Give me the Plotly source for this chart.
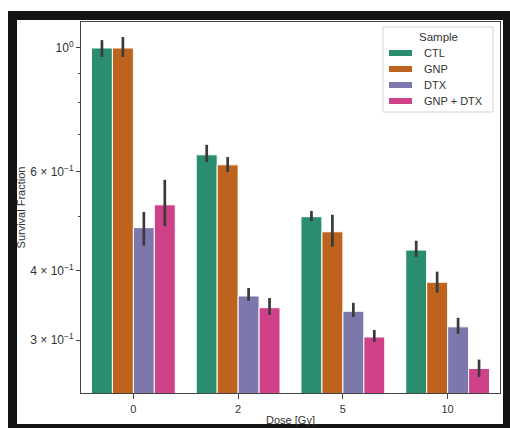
import plotly.graph_objects as go

# ---- data ----
doses = ["0", "2", "5", "10"]
samples = ["CTL", "GNP", "DTX", "GNP + DTX"]
ctl = [1.000, 0.644, 0.499, 0.435]
ctl_hi = [1.033, 0.671, 0.511, 0.452]
ctl_lo = [0.964, 0.625, 0.490, 0.423]
gnp = [1.000, 0.618, 0.469, 0.381]
gnp_hi = [1.046, 0.638, 0.503, 0.398]
gnp_lo = [0.964, 0.600, 0.441, 0.365]
dtx = [0.477, 0.360, 0.338, 0.317]
dtx_hi = [0.509, 0.372, 0.350, 0.329]
dtx_lo = [0.443, 0.353, 0.330, 0.308]
combo = [0.524, 0.343, 0.304, 0.267]
combo_hi = [0.581, 0.357, 0.313, 0.277]
combo_lo = [0.480, 0.333, 0.298, 0.258]
colors = ["#2b8d70", "#be631d", "#7c78ab", "#cf4189"]
ytick_vals = [1.0, 0.6, 0.4, 0.3]
ytick_text = ["10<sup>0</sup>", "6 × 10<sup>−1</sup>", "4 × 10<sup>−1</sup>", "3 × 10<sup>−1</sup>"]
yminor_vals = [0.9, 0.8, 0.7, 0.5]
legend_title = "Sample"

series = [(ctl, ctl_hi, ctl_lo), (gnp, gnp_hi, gnp_lo), (dtx, dtx_hi, dtx_lo), (combo, combo_hi, combo_lo)]

W, H = 510, 428
L, R, T, B = 81, 10, 22, 35
PW, PH = W - L - R, H - T - B

def px(x):
    return (x - L) / PW

def py(y):
    return (H - B - y) / PH

fig = go.Figure()
for name, (v, hi, lo), c in zip(samples, series, colors):
    fig.add_trace(go.Bar(
        x=doses, y=v, name=name, showlegend=False,
        marker=dict(color=c, line=dict(color="white", width=1)),
        error_y=dict(type="data", symmetric=False,
                     array=[h - a for h, a in zip(hi, v)],
                     arrayminus=[a - l for a, l in zip(v, lo)],
                     color="#3a3a3a", thickness=2.7, width=0),
    ))

font = "Liberation Sans, Arial, sans-serif"
frame = [
    (8, 11, 510, 20),
    (8, 11, 17, 428),
    (503, 11, 510, 428),
    (8, 424, 510, 428),
]
shapes = [dict(type="rect", xref="paper", yref="paper",
               x0=px(a), x1=px(c), y0=py(d), y1=py(b),
               fillcolor="#141414", line=dict(width=0), layer="above")
          for a, b, c, d in frame]

# manual legend (matplotlib-like spacing)
lx0, ly0, lx1, ly1 = 383, 27, 493, 112
shapes.append(dict(type="rect", xref="paper", yref="paper",
                   x0=px(lx0), x1=px(lx1), y0=py(ly1), y1=py(ly0),
                   fillcolor="white", line=dict(color="#d4d4d4", width=1), layer="above"))
annotations = [dict(text=legend_title, xref="paper", yref="paper",
                    x=px((lx0 + lx1) / 2), y=py(37), xanchor="center", yanchor="middle",
                    showarrow=False, font=dict(size=11.5, color="#333333"))]
for i, (name, c) in enumerate(zip(samples, colors)):
    yc = 53 + 16 * i
    shapes.append(dict(type="rect", xref="paper", yref="paper",
                       x0=px(389), x1=px(412), y0=py(yc + 3), y1=py(yc - 3),
                       fillcolor=c, line=dict(width=0), layer="above"))
    annotations.append(dict(text=name, xref="paper", yref="paper",
                            x=px(422), y=py(yc), xanchor="left", yanchor="middle",
                            showarrow=False, font=dict(size=11, color="#333333")))

fig.update_layout(
    width=W, height=H,
    margin=dict(l=L, r=R, t=T, b=B),
    paper_bgcolor="white", plot_bgcolor="white",
    barmode="group", bargap=0.2, bargroupgap=0,
    font=dict(family=font, size=11, color="#333333"),
    shapes=shapes, annotations=annotations,
    showlegend=False,
    xaxis=dict(type="category", showline=True, linecolor="#444", linewidth=1, mirror=True,
               ticks="outside", ticklen=5, tickcolor="#444", ticklabelstandoff=1,
               automargin=False,
               title=dict(text="Dose [Gy]", standoff=2, font=dict(size=11))),
    yaxis=dict(type="log", range=[-0.6173, 0.0465], showline=True, linecolor="#444",
               linewidth=1, mirror=True, showgrid=False, zeroline=False,
               tickmode="array", tickvals=ytick_vals, ticktext=ytick_text,
               tickfont=dict(size=12),
               ticks="outside", ticklen=4, tickcolor="#444", automargin=False,
               minor=dict(tickmode="array", tickvals=yminor_vals, ticks="outside",
                          ticklen=2.5, tickcolor="#444", showgrid=False),
               title=dict(text="Survival Fraction", standoff=2, font=dict(size=11))),
)
fig.write_html("out.html")
